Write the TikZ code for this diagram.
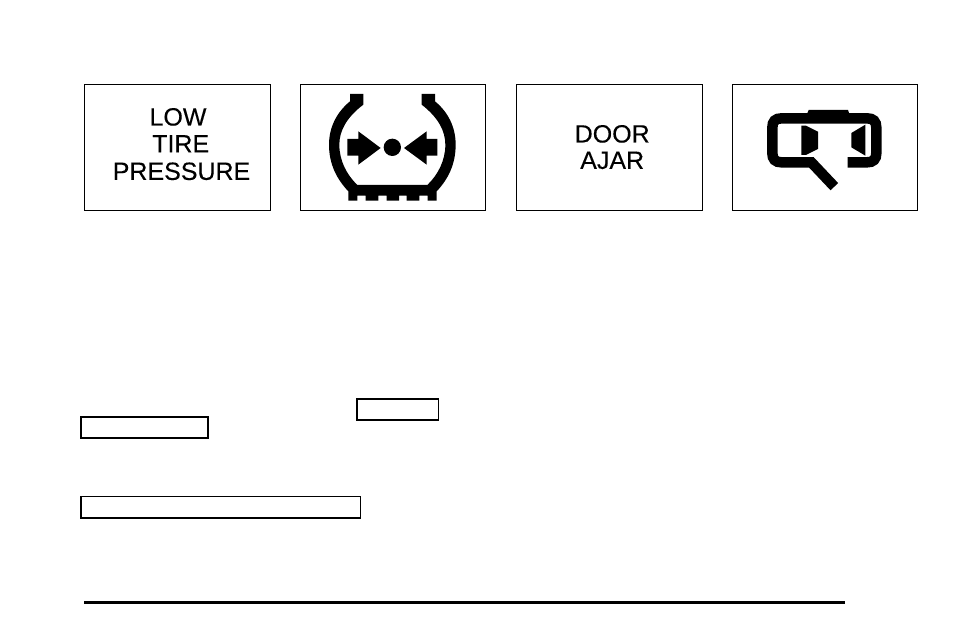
\documentclass[tikz,border=0pt]{standalone}
\usepackage{fontspec}
\setmainfont{Liberation Sans}
\newfontfamily\signfont{Liberation Sans}[FakeBold=0.2]
\begin{document}
\begin{tikzpicture}[x=1pt,y=-1pt,
  panel/.style={draw=black,line width=1.3pt,fill=white},
  blank/.style={draw=black,line width=1.5pt,fill=white},
  label/.style={font=\signfont\fontsize{25}{27}\selectfont,anchor=base,inner sep=0pt,text=black},
  icon/.style={x=0.33333pt,y=-0.33333pt}]
\useasboundingbox[fill=white] (0,0) rectangle (954,636);
% panels
\draw[panel] (84.6,84.6) rectangle (270.4,210.4);
\draw[panel] (300.6,84.6) rectangle (485.4,210.4);
\draw[panel] (516.8,84.6) rectangle (702.2,210.4);
\draw[panel] (732.6,84.6) rectangle (917.4,210.4);
% texts
\node[label] (low) at (178,125.5) {LOW};
\node[label] (tire) at (180.7,152.4) {TIRE};
\node[label] (pressure) at (181.5,179.9) {PRESSURE};
\node[label] (door) at (612.2,142.5) {DOOR};
\node[label] (ajar) at (612.2,168.9) {AJAR};
% tire icon
\begin{scope}[shift={(300,84)},icon]
\fill[black] (150,30) -- (190,30) -- (190,62)
  .. controls (140,100) and (118,140) .. (118,182)
  .. controls (118,230) and (140,272) .. (172,303)
  -- (382,303)
  .. controls (414,272) and (436,230) .. (436,182)
  .. controls (436,140) and (414,100) .. (365,62)
  -- (365,30) -- (405,30) -- (405,52)
  .. controls (445,85) and (467,130) .. (467,182)
  .. controls (467,240) and (445,285) .. (410,322)
  -- (410,350) -- (383,350) -- (383,335) -- (358,335) -- (358,350) -- (320,350)
  -- (320,335) -- (297,335) -- (297,350) -- (260,350) -- (260,335) -- (235,335)
  -- (235,350) -- (197,350) -- (197,335) -- (172,335) -- (172,350) -- (145,350)
  -- (145,322)
  .. controls (110,285) and (87,240) .. (87,182)
  .. controls (87,130) and (110,85) .. (150,52) -- cycle;
\fill[black] (142,165) -- (175,165) -- (175,142) -- (242,192) -- (175,242) -- (175,215) -- (142,215) -- cycle;
\fill[black] (412,165) -- (380,165) -- (380,142) -- (312,192) -- (380,242) -- (380,215) -- (412,215) -- cycle;
\fill[black] (277,190) circle[x radius=26,y radius=26];
\end{scope}
% door icon
\begin{scope}[shift={(732,84)},icon]
\draw[black,line width=10.5pt,miter limit=4,line join=miter]
  (347,235) -- (405,235) .. controls (424,235) and (433,226) .. (433,207) -- (433,131)
  .. controls (433,112) and (424,103) .. (405,103) -- (149,103)
  .. controls (130,103) and (121,112) .. (121,131) -- (121,207)
  .. controls (121,226) and (130,235) .. (149,235) -- (238,235) -- (307,308);
\fill[black] (225,90) -- (230,78) -- (348,78) -- (352,90) -- (352,114) -- (225,114) -- cycle;
\fill[black] (208,125) -- (222,125) -- (258,143) -- (258,195) -- (222,213) -- (208,213) -- cycle;
\fill[black] (400,122) -- (358,147) -- (358,190) -- (400,215) -- cycle;
\end{scope}
% blank label boxes
\draw[blank] (356.8,398.8) rectangle (438.4,420.2);
\draw[blank] (80.8,416.8) rectangle (208.2,438.2);
\draw[blank] (80.8,496.4) rectangle (360.4,518.2);
% rule
\draw[black,line width=3pt] (84,602.5) -- (845,602.5);
\end{tikzpicture}
\end{document}
